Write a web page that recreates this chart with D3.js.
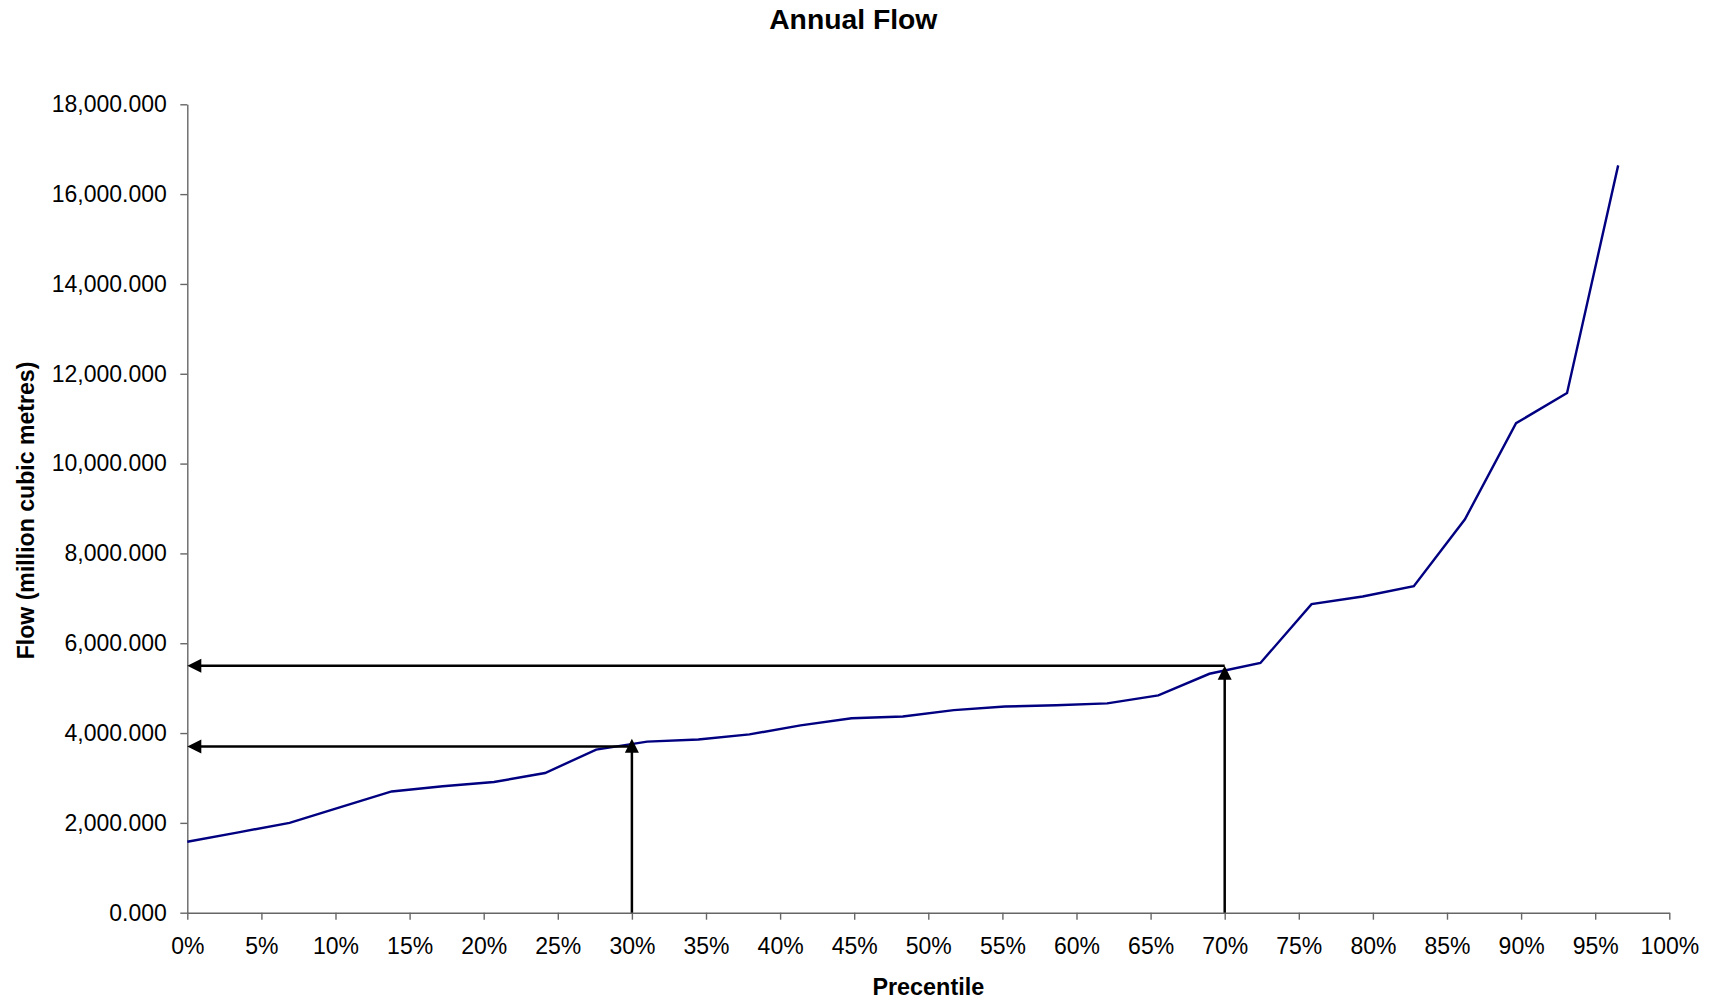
<!DOCTYPE html>
<html>
<head>
<meta charset="utf-8">
<script src="https://cdn.jsdelivr.net/npm/d3@7"></script>
<style>
  html, body { margin: 0; padding: 0; background: #fff; }
  svg { display: block; font-family: "Liberation Sans", Arial, sans-serif; }
</style>
</head>
<body>
<svg id="chart" width="1717" height="1002"></svg>
<script>
// Flow-duration style curve: annual flow sorted by percentile
const percentiles = [0.0000, 0.0345, 0.0690, 0.1034, 0.1379, 0.1724, 0.2069, 0.2414, 0.2759, 0.3103,
                     0.3448, 0.3793, 0.4138, 0.4483, 0.4828, 0.5172, 0.5517, 0.5862, 0.6207, 0.6552,
                     0.6897, 0.7241, 0.7586, 0.7931, 0.8276, 0.8621, 0.8966, 0.9310, 0.9655];
const flows = [1580, 1790, 2000, 2350, 2700, 2815, 2910, 3110, 3630, 3810,
               3855, 3970, 4170, 4330, 4370, 4510, 4590, 4620, 4660, 4840,
               5320, 5560, 6870, 7040, 7270, 8760, 10900, 11570, 16640];

const xTicks = [0, 0.05, 0.10, 0.15, 0.20, 0.25, 0.30, 0.35, 0.40, 0.45, 0.50,
                0.55, 0.60, 0.65, 0.70, 0.75, 0.80, 0.85, 0.90, 0.95, 1.00];
const yTicks = [0, 2000, 4000, 6000, 8000, 10000, 12000, 14000, 16000, 18000];

// Reading guides: percentile -> flow lookups at 30% and 70%
const guides = [
  { x1: 0.30, y1: 0,    x2: 0.30, y2: 3875 },
  { x1: 0.30, y1: 3700, x2: 0.00, y2: 3700 },
  { x1: 0.70, y1: 0,    x2: 0.70, y2: 5500 },
  { x1: 0.70, y1: 5500, x2: 0.00, y2: 5500 }
];

const svg = d3.select("#chart");
const plotLeft = 187.3, plotRight = 1669.3, plotTop = 104.3, plotBottom = 912.7;

const x = d3.scaleLinear().domain([0, 1]).range([plotLeft, plotRight]);
const y = d3.scaleLinear().domain([0, 18000]).range([plotBottom, plotTop]);

const axisColor = "#666";
const fontSize = 23;

// Y axis
const gy = svg.append("g")
  .attr("transform", `translate(${plotLeft},0)`)
  .call(d3.axisLeft(y).tickValues(yTicks).tickFormat(d3.format(",.3f"))
        .tickSize(7).tickSizeOuter(0).tickPadding(13.5));
gy.select(".domain").attr("stroke", axisColor).attr("stroke-width", 1.4);
gy.selectAll(".tick line").attr("stroke", axisColor).attr("stroke-width", 1.4);
gy.selectAll(".tick text").attr("fill", "#000").style("font-size", fontSize + "px")
  .style("font-family", "'Liberation Sans', Arial, sans-serif");

// X axis
const gx = svg.append("g")
  .attr("transform", `translate(0,${plotBottom})`)
  .call(d3.axisBottom(x).tickValues(xTicks).tickFormat(d3.format(".0%"))
        .tickSize(7).tickSizeOuter(0).tickPadding(17.5));
gx.select(".domain").attr("stroke", axisColor).attr("stroke-width", 1.4);
gx.selectAll(".tick line").attr("stroke", axisColor).attr("stroke-width", 1.4);
gx.selectAll(".tick text").attr("fill", "#000").style("font-size", fontSize + "px")
  .style("font-family", "'Liberation Sans', Arial, sans-serif");

// Flow curve
const pts = percentiles.map((p, i) => [p, flows[i]]);
svg.append("path")
  .datum(pts)
  .attr("fill", "none")
  .attr("stroke", "#000080")
  .attr("stroke-width", 2.4)
  .attr("stroke-linejoin", "miter")
  .attr("d", d3.line().x(d => x(d[0])).y(d => y(d[1])));

// Guide arrows with filled triangular heads
const headLen = 14, headHalf = 7;
const ga = svg.append("g");
guides.forEach(g => {
  const sx = x(g.x1), sy = y(g.y1), ex = x(g.x2), ey = y(g.y2);
  const dx = ex - sx, dy = ey - sy, len = Math.hypot(dx, dy);
  const ux = dx / len, uy = dy / len;
  const bx = ex - ux * headLen, by = ey - uy * headLen;
  ga.append("line")
    .attr("x1", sx).attr("y1", sy).attr("x2", bx + ux).attr("y2", by + uy)
    .attr("stroke", "#000").attr("stroke-width", 2.5);
  const px = -uy, py = ux;
  ga.append("path")
    .attr("d", `M${ex},${ey}L${bx + px * headHalf},${by + py * headHalf}L${bx - px * headHalf},${by - py * headHalf}Z`)
    .attr("fill", "#000");
});

// Titles
svg.append("text")
  .attr("x", (plotLeft + plotRight) / 2 - 75).attr("y", 29)
  .attr("text-anchor", "middle")
  .style("font-size", "28.3px").style("font-weight", "bold")
  .text("Annual Flow");

svg.append("text")
  .attr("x", (plotLeft + plotRight) / 2).attr("y", 995)
  .attr("text-anchor", "middle")
  .style("font-size", "23.4px").style("font-weight", "bold")
  .text("Precentile");

svg.append("text")
  .attr("transform", `translate(34,${(plotTop + plotBottom) / 2 + 2}) rotate(-90)`)
  .attr("text-anchor", "middle")
  .style("font-size", "23.1px").style("font-weight", "bold")
  .text("Flow (million cubic metres)");
</script>
</body>
</html>
